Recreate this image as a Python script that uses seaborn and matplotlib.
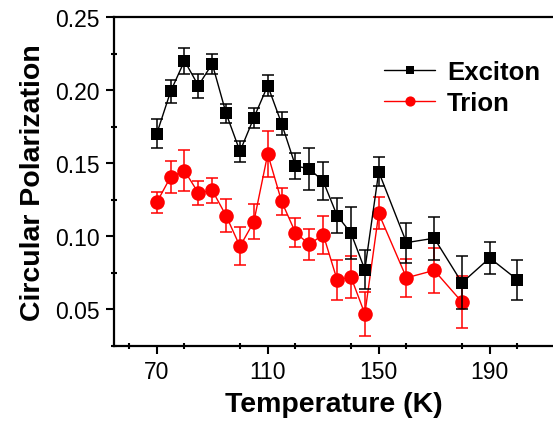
import matplotlib
matplotlib.use("Agg")
import matplotlib.pyplot as plt
import seaborn as sns
import numpy as np
from matplotlib.ticker import MultipleLocator

sns.set_style("ticks")
plt.rcParams['font.family'] = ['Liberation Sans', 'DejaVu Sans']
plt.rcParams['text.color'] = 'black'
plt.rcParams['axes.labelcolor'] = 'black'
plt.rcParams['xtick.color'] = 'black'
plt.rcParams['ytick.color'] = 'black'

temp_exciton = [70, 75, 80, 85, 90, 95, 100, 105, 110, 115, 120, 125, 130, 135, 140, 145, 150, 160, 170, 180, 190, 200]
pol_exciton = [0.170, 0.199, 0.220, 0.203, 0.218, 0.184, 0.158, 0.181, 0.203, 0.177, 0.148, 0.146, 0.1375, 0.114,
               0.102, 0.077, 0.144, 0.0955, 0.0985, 0.068, 0.085, 0.070]
err_exciton = [0.0099, 0.008, 0.0087, 0.0082, 0.0068, 0.0064, 0.007, 0.007, 0.0073, 0.008, 0.0087, 0.0145, 0.013,
               0.0118, 0.0176, 0.0135, 0.0098, 0.0137, 0.0148, 0.018, 0.011, 0.0135]

temp_trion = [70, 75, 80, 85, 90, 95, 100, 105, 110, 115, 120, 125, 130, 135, 140, 145, 150, 160, 170, 180]
pol_trion = [0.123, 0.1405, 0.1447, 0.1295, 0.1313, 0.1139, 0.0929, 0.1098, 0.1562, 0.1237, 0.1023, 0.0943, 0.101,
             0.070, 0.0719, 0.0467, 0.1155, 0.0714, 0.0765, 0.0548]
err_trion = [0.007, 0.011, 0.014, 0.0085, 0.0087, 0.0114, 0.013, 0.012, 0.016, 0.009, 0.010, 0.0105, 0.013, 0.0137,
             0.0146, 0.015, 0.011, 0.013, 0.0153, 0.018]

x_ticks = [70, 110, 150, 190]
y_ticks = [0.05, 0.10, 0.15, 0.20, 0.25]

fig = plt.figure(figsize=(5.53, 4.27), dpi=100)
ax = fig.add_axes([114/553, 1 - 347/427, 439/553, 329/427])

RED = '#FF0000'
ax.errorbar(temp_trion, pol_trion, yerr=err_trion, fmt='none', ecolor=RED, elinewidth=1.1, capsize=4.3, capthick=1.1, zorder=2)
sns.lineplot(x=temp_trion, y=pol_trion, ax=ax, color=RED, marker='o', markersize=10.5, markeredgewidth=0,
             linewidth=1.0, label='Trion', zorder=3)
ax.errorbar(temp_exciton, pol_exciton, yerr=err_exciton, fmt='none', ecolor='black', elinewidth=1.1, capsize=4.3, capthick=1.1, zorder=4)
sns.lineplot(x=temp_exciton, y=pol_exciton, ax=ax, color='black', marker='s', markersize=9, markeredgewidth=0,
             linewidth=1.0, label='Exciton', zorder=5)

ax.set_xlim(54.6, 212.8)
ax.set_ylim(0.0247, 0.25)
ax.set_xticks(x_ticks)
ax.set_yticks(y_ticks)
ax.xaxis.set_minor_locator(MultipleLocator(20))
ax.yaxis.set_minor_locator(MultipleLocator(0.025))
ax.set_xticklabels([str(t) for t in x_ticks], fontsize=16.5)
ax.set_yticklabels([f"{v:.2f}" for v in y_ticks], fontsize=16.5)

ax.tick_params(axis='both', which='major', direction='out', length=6, width=1.5, pad=4, colors='black')
ax.tick_params(axis='both', which='minor', direction='inout', length=4, width=1.5, colors='black')

for side in ['left', 'bottom', 'top']:
    ax.spines[side].set_linewidth(1.6)
    ax.spines[side].set_color('black')
ax.spines['right'].set_visible(False)

ax.set_xlabel('Temperature (K)', fontsize=20.5, fontweight='bold', labelpad=6, color='black')
ax.set_ylabel('Circular Polarization', fontsize=20.5, fontweight='bold', labelpad=7, color='black')

handles, labels = ax.get_legend_handles_labels()
order = [labels.index('Exciton'), labels.index('Trion')]
leg = ax.legend([handles[i] for i in order], [labels[i] for i in order], loc='upper right',
                bbox_to_anchor=(1.023, 0.94), frameon=False, markerscale=0.7, handlelength=2.0,
                handletextpad=0.45, labelspacing=0.28, prop={'weight': 'bold', 'size': 18.5})
for t in leg.get_texts():
    t.set_color('black')

fig.savefig('out.png', dpi=100)
